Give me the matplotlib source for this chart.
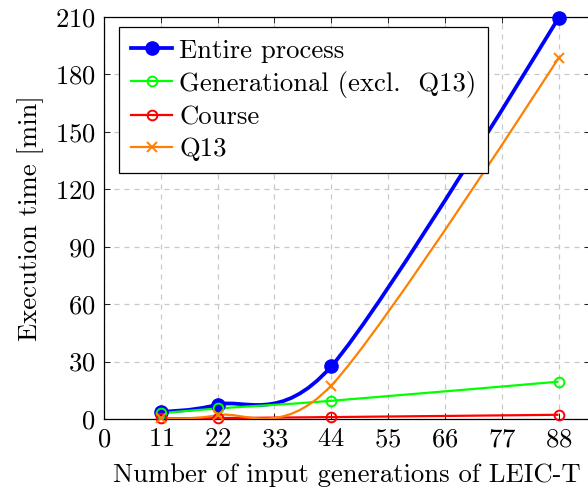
import numpy as np
from matplotlib import pyplot as plt
from matplotlib.path import Path
from matplotlib.patches import PathPatch
from matplotlib.lines import Line2D

plt.rcParams['font.family'] = 'cmr10'
plt.rcParams['mathtext.fontset'] = 'cm'
plt.rcParams['axes.formatter.use_mathtext'] = True
plt.rcParams['font.size'] = 19.2

# data
generations = [11, 22, 44, 88]
entire = [3.8, 7.5, 27.5, 209.5]
generational = [3.0, 5.5, 9.5, 19.5]
course = [0.5, 0.5, 1.0, 2.2]
q13 = [0.5, 2.0, 17.5, 188.5]

labels = ['Entire process', 'Generational (excl.  Q13)', 'Course', 'Q13']
colors = ['#0000ff', '#00ff00', '#ff0000', '#ff8000']

xmax = 94.0
ymax = 210
sx, sy = 5.163, 1.914   # px per unit, so the smoothing works in screen space
tension = 0.15


def smooth_path(xs, ys):
    # tikz-like "smooth" handler: cubic bezier with control points from neighbours
    p = np.column_stack([np.array(xs) * sx, np.array(ys) * sy])
    n = len(p)
    verts = [p[0]]
    codes = [Path.MOVETO]
    for i in range(n - 1):
        c1 = p[i] + tension * (p[i + 1] - p[i - 1]) if i > 0 else p[i]
        c2 = p[i + 1] - tension * (p[i + 2] - p[i]) if i + 2 < n else p[i + 1]
        verts += [c1, c2, p[i + 1]]
        codes += [Path.CURVE4] * 3
    verts = np.array(verts) / [sx, sy]
    return Path(verts, codes)


fig = plt.figure(figsize=(5.88, 4.88), dpi=100)
# right edge of the axes sits just outside the picture (cropped like the original)
ax = fig.add_axes([104 / 588, 69 / 488, 485.5 / 588, 402 / 488])

series = [entire, generational, course, q13]
styles = [
    dict(marker='o', markersize=9.5, markerfacecolor=colors[0], markeredgecolor=colors[0], lw=2.7),
    dict(marker='o', markersize=7, markerfacecolor='none', markeredgecolor=colors[1], markeredgewidth=1.4, lw=1.6),
    dict(marker='o', markersize=7, markerfacecolor='none', markeredgecolor=colors[2], markeredgewidth=1.4, lw=1.6),
    dict(marker='x', markersize=6.5, markeredgecolor=colors[3], markeredgewidth=1.4, lw=1.6),
]

handles = []
for ys, c, st, lab in zip(series, colors, styles, labels):
    patch = PathPatch(smooth_path(generations, ys), facecolor='none', edgecolor=c,
                      lw=st['lw'], zorder=3)
    ax.add_patch(patch)
    mk = {k: v for k, v in st.items() if k != 'lw'}
    ax.plot(generations, ys, linestyle='none', clip_on=False, zorder=4, **mk)
    handles.append(Line2D([], [], color=c, lw=st['lw'], label=lab, **mk))

ax.set_xlim(0, xmax)
ax.set_ylim(0, ymax)
ax.set_xticks(np.arange(0, 89, 11))
ax.set_yticks(np.arange(0, 211, 30))
ax.grid(True, linestyle=(0, (4, 4)), color='#c8c8c8', lw=0.9)
ax.set_axisbelow(True)
ax.tick_params(direction='in', length=4, width=0.6, top=True, right=True, pad=6)
for s in ['left', 'top', 'bottom', 'right']:
    ax.spines[s].set_linewidth(0.9)

ax.set_xlabel('Number of input generations of LEIC-T', labelpad=9)
ax.set_ylabel('Execution time [min]', labelpad=8)

leg = ax.legend(handles=handles, loc='upper left', bbox_to_anchor=(0.031, 0.975),
                borderaxespad=0, numpoints=1, handlelength=1.55, handletextpad=0.25,
                labelspacing=0.3, borderpad=0.45, fancybox=False, framealpha=1,
                edgecolor='black')
leg.get_frame().set_linewidth(0.9)

fig.savefig('out.png', dpi=100)
